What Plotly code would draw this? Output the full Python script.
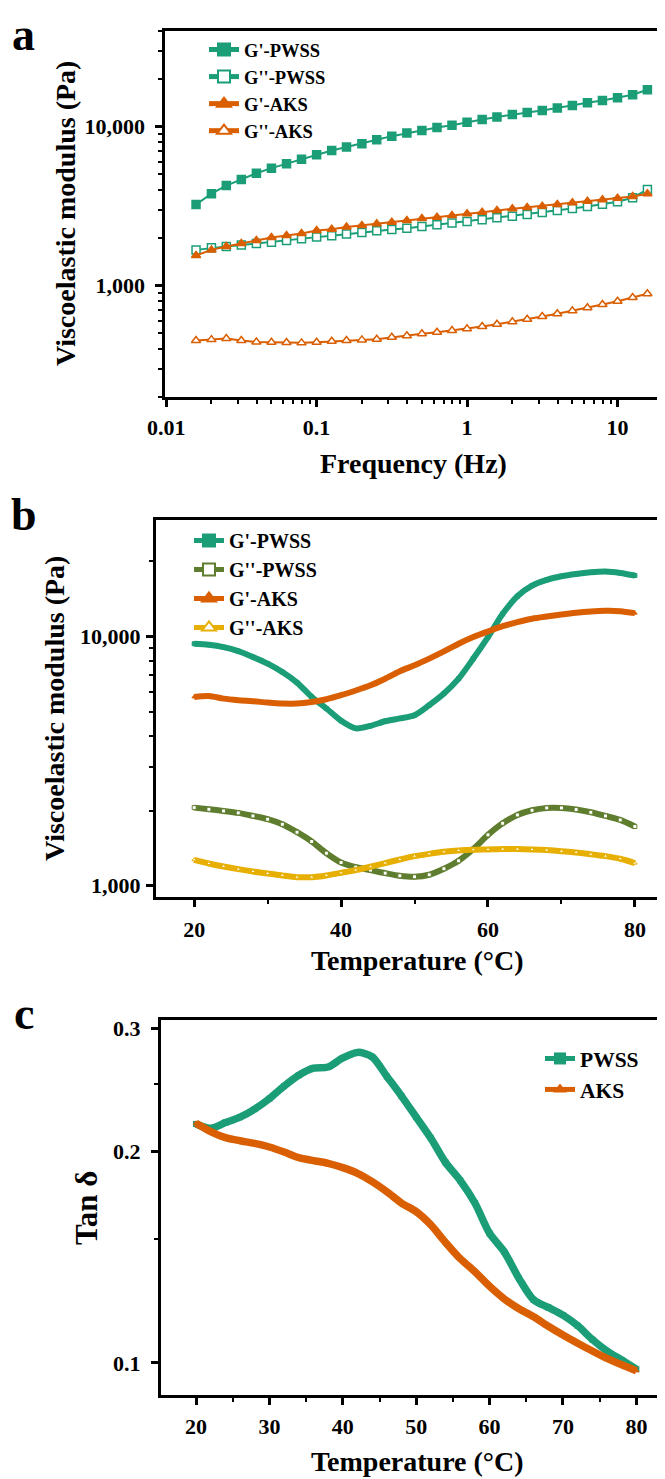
import plotly.graph_objects as go

# page body adds an 8px margin; the figure is shrunk by it so reference pixels map 1:1
OFF = 8
W, H = 665 - OFF, 1479 - OFF

# ---------------- data ----------------
freq_hz = [0.0158, 0.02, 0.0251, 0.0316, 0.0398, 0.0501, 0.0631, 0.0794, 0.1, 0.126,
           0.158, 0.2, 0.251, 0.316, 0.398, 0.501, 0.631, 0.794, 1.0, 1.26,
           1.58, 2.0, 2.51, 3.16, 3.98, 5.01, 6.31, 7.94, 10.0, 12.6, 15.8]
a_g1_pwss = [3230, 3780, 4250, 4640, 5080, 5470, 5820, 6220, 6640, 7060, 7420, 7790, 8250, 8690, 9080,
             9440, 9860, 10190, 10640, 11070, 11450, 11900, 12240, 12610, 13040, 13550, 14090, 14580,
             15140, 15820, 17020]
a_g2_pwss = [1675, 1725, 1760, 1795, 1840, 1870, 1920, 1965, 2015, 2055, 2105, 2155, 2210, 2250, 2290,
             2350, 2410, 2470, 2530, 2590, 2670, 2730, 2800, 2880, 2965, 3050, 3140, 3245, 3360, 3560, 4020]
a_g1_aks = [1545, 1675, 1760, 1840, 1920, 2005, 2060, 2125, 2220, 2260, 2330, 2385, 2445, 2500, 2565,
            2640, 2690, 2755, 2825, 2890, 2965, 3035, 3095, 3155, 3230, 3310, 3390, 3460, 3540, 3630, 3780]
a_g2_aks = [451, 457, 464, 451, 442, 440, 438, 436, 440, 446, 451, 455, 459, 473, 483, 497, 508, 521,
            534, 552, 571, 591, 614, 638, 664, 693, 724, 760, 797, 841, 887]

temp_c = [20, 22, 24, 26, 28, 30, 32, 34, 36, 38, 40, 42, 44, 46, 48, 50,
          52, 54, 56, 58, 60, 62, 64, 66, 68, 70, 72, 74, 76, 78, 80]
b_g1_pwss = [9350, 9260, 9060, 8730, 8270, 7780, 7200, 6530, 5720, 5140, 4590, 4280, 4380, 4570, 4690,
             4830, 5300, 5900, 6770, 8150, 9940, 12320, 14500, 15990, 16870, 17430, 17810, 18080, 18200,
             17980, 17550]
b_g2_pwss = [2058, 2027, 1996, 1960, 1906, 1849, 1765, 1640, 1505, 1351, 1240, 1188, 1156, 1124, 1097,
             1087, 1107, 1170, 1259, 1403, 1600, 1781, 1923, 2008, 2052, 2052, 2021, 1971, 1906, 1837, 1728]
b_g1_aks = [5720, 5770, 5630, 5550, 5500, 5430, 5380, 5380, 5460, 5600, 5810, 6070, 6370, 6770, 7250,
            7660, 8150, 8710, 9350, 9940, 10470, 11000, 11410, 11770, 12020, 12240, 12440, 12590, 12670,
            12630, 12400]
b_g2_aks = [1271, 1229, 1195, 1166, 1141, 1121, 1100, 1083, 1083, 1100, 1127, 1156, 1192, 1233, 1275,
            1315, 1343, 1368, 1385, 1394, 1398, 1403, 1403, 1398, 1390, 1377, 1360, 1339, 1315, 1283, 1233]

c_tan_pwss = [0.219, 0.216, 0.220, 0.224, 0.230, 0.238, 0.248, 0.257, 0.263, 0.264, 0.272, 0.277, 0.273,
              0.256, 0.240, 0.224, 0.209, 0.193, 0.182, 0.169, 0.153, 0.144, 0.132, 0.123, 0.120, 0.117,
              0.113, 0.108, 0.104, 0.101, 0.098]
c_tan_aks = [0.2195, 0.2136, 0.2094, 0.2073, 0.2055, 0.2031, 0.1998, 0.1961, 0.1942, 0.1925, 0.1898,
             0.1863, 0.1813, 0.1754, 0.1690, 0.1643, 0.1573, 0.1485, 0.1408, 0.1349, 0.1286, 0.1234,
             0.1195, 0.1164, 0.1128, 0.1096, 0.1067, 0.1040, 0.1015, 0.0994, 0.0975]

names_a = ["G'-PWSS", "G''-PWSS", "G'-AKS", "G''-AKS"]
names_c = ["PWSS", "AKS"]

# ---------------- style ----------------
TEAL = "#1b9e77"
ORANGE = "#d95f02"
OLIVE = "#5f7d2e"
YELLOW = "#e6af02"
FONT = "Liberation Serif"


def px_x(p):
    return (p - OFF) / W


def px_y(p):
    return 1 - (p - OFF) / H


fig = go.Figure()

# Panel a
specs_a = [
    (a_g1_pwss, TEAL, "square", TEAL, names_a[0]),
    (a_g2_pwss, TEAL, "square", "white", names_a[1]),
    (a_g1_aks, ORANGE, "triangle-up", ORANGE, names_a[2]),
    (a_g2_aks, ORANGE, "triangle-up", "white", names_a[3]),
]
for vals, col, sym, fill, nm in specs_a:
    fig.add_trace(go.Scatter(
        x=freq_hz, y=vals, name=nm, mode="lines+markers",
        line=dict(color=col, width=2),
        marker=dict(symbol=sym, size=8, color=fill, line=dict(color=col, width=1.5)),
        xaxis="x", yaxis="y", legend="legend"))

# Panel b
specs_b = [
    (b_g1_pwss, TEAL, "square", TEAL, names_a[0]),
    (b_g2_pwss, OLIVE, "square", "white", names_a[1]),
    (b_g1_aks, ORANGE, "triangle-up", ORANGE, names_a[2]),
    (b_g2_aks, YELLOW, "triangle-up", "white", names_a[3]),
]
for vals, col, sym, fill, nm in specs_b:
    fig.add_trace(go.Scatter(
        x=temp_c, y=vals, name=nm, mode="lines+markers",
        line=dict(color=col, width=6, shape="spline", smoothing=0.8),
        marker=dict(symbol=sym, size=4, color=fill, line=dict(color=col, width=1)),
        xaxis="x2", yaxis="y2", legend="legend2"))

# Panel c
specs_c = [
    (c_tan_pwss, TEAL, "square", names_c[0]),
    (c_tan_aks, ORANGE, "triangle-up", names_c[1]),
]
for vals, col, sym, nm in specs_c:
    fig.add_trace(go.Scatter(
        x=temp_c, y=vals, name=nm, mode="lines+markers",
        line=dict(color=col, width=7.5, shape="spline", smoothing=0.8),
        marker=dict(symbol=sym, size=6, color=col),
        xaxis="x3", yaxis="y3", legend="legend3"))

tickfont = dict(family=FONT, size=22, color="black", weight="bold")


def axis_common(**kw):
    d = dict(showline=True, linewidth=3, linecolor="black", ticks="outside", ticklen=7,
             tickwidth=2.5, tickcolor="black", showgrid=False, zeroline=False,
             tickfont=tickfont)
    d.update(kw)
    return d


minor_freq = [m * 10 ** e for e in (-2, -1, 0, 1) for m in (2, 3, 4, 5, 6, 7, 8, 9)]
minor_mod = [m * 10 ** e for e in (2, 3, 4) for m in (2, 3, 4, 5, 6, 7, 8, 9)]
minor_style = dict(ticks="outside", ticklen=4, tickwidth=2, tickcolor="black", showgrid=False)

fig.update_layout(
    width=W, height=H,
    margin=dict(l=0, r=0, t=0, b=0, autoexpand=False),
    paper_bgcolor="white", plot_bgcolor="white",
    font=dict(family=FONT, color="black"),
    xaxis=axis_common(type="log", domain=[px_x(165.4), px_x(661.6)], range=[-2.005, 1.293],
                      tickvals=[0.01, 0.1, 1, 10], ticktext=["0.01", "0.1", "1", "10"],
                      mirror=True, anchor="y", ticklabelstandoff=2,
                      minor=dict(tickvals=minor_freq, **minor_style)),
    yaxis=axis_common(type="log", domain=[px_y(396.7), px_y(30.7)], range=[2.301, 4.602],
                      tickvals=[1000, 10000], ticktext=["1,000", "10,000"],
                      mirror=True, anchor="x", ticklabelstandoff=6,
                      minor=dict(tickvals=minor_mod, **minor_style)),
    xaxis2=axis_common(domain=[px_x(156), 1.0], range=[14.8, 84.1],
                       tickvals=[20, 40, 60, 80], mirror=True, anchor="y2", ticklabelstandoff=4,
                       minor=dict(tickvals=[30, 50, 70], **minor_style)),
    yaxis2=axis_common(type="log", domain=[px_y(897), px_y(519.5)], range=[2.955, 4.469],
                       tickvals=[1000, 10000], ticktext=["1,000", "10,000"],
                       mirror=False, anchor="x2", ticklabelstandoff=1,
                       minor=dict(tickvals=minor_mod, **minor_style)),
    xaxis3=axis_common(domain=[px_x(161), 1.0], range=[15.23, 83.9],
                       tickvals=[20, 30, 40, 50, 60, 70, 80], mirror=True, anchor="y3",
                       ticklabelstandoff=3,
                       minor=dict(tickvals=[25, 35, 45, 55, 65, 75], **minor_style)),
    yaxis3=axis_common(type="log", domain=[px_y(1395), px_y(1020)], range=[-1.0456, -0.5114],
                       tickvals=[0.1, 0.2, 0.3], ticktext=["0.1", "0.2", "0.3"],
                       mirror=False, anchor="x3", ticklabelstandoff=6,
                       minor=dict(tickvals=[0.15, 0.25], **minor_style)),
    legend=dict(x=px_x(204), y=px_y(31), xanchor="left", yanchor="top",
                bgcolor="rgba(0,0,0,0)", itemsizing="constant", tracegroupgap=0,
                font=dict(family=FONT, size=18.5, color="black", weight="bold")),
    legend2=dict(x=px_x(189), y=px_y(521), xanchor="left", yanchor="top",
                 bgcolor="rgba(0,0,0,0)", itemsizing="constant", tracegroupgap=0,
                 font=dict(family=FONT, size=20, color="black", weight="bold")),
    legend3=dict(x=px_x(540), y=px_y(1038), xanchor="left", yanchor="top",
                 bgcolor="rgba(0,0,0,0)", itemsizing="constant", tracegroupgap=0,
                 font=dict(family=FONT, size=21.5, color="black", weight="bold")),
    showlegend=True,
)

title_font = dict(family=FONT, size=28, color="black", weight="bold")
label_font = dict(family=FONT, size=46, color="black", weight="bold")
annots = [
    # axis titles
    dict(text="Frequency (Hz)", x=px_x(413), y=px_y(463), font=title_font),
    dict(text="Viscoelastic modulus (Pa)", x=px_x(65), y=px_y(214), font=title_font, textangle=-90),
    dict(text="Temperature (°C)", x=px_x(417), y=px_y(960), font=title_font),
    dict(text="Viscoelastic modulus (Pa)", x=px_x(54), y=px_y(709), font=title_font, textangle=-90),
    dict(text="Temperature (°C)", x=px_x(417), y=px_y(1461), font=title_font),
    dict(text="Tan δ", x=px_x(86), y=px_y(1208), font=dict(family=FONT, size=31, color="black",
                                                           weight="bold"), textangle=-90),
]
for a in annots:
    fig.add_annotation(xref="paper", yref="paper", xanchor="center", yanchor="middle",
                       showarrow=False, **a)

# panel letters
letters = [("a", 23, OFF), ("b", 24, 488), ("c", 24, 987)]
for txt, lx, ty in letters:
    fig.add_annotation(xref="paper", yref="paper", xanchor="center", yanchor="top",
                       x=px_x(lx), y=px_y(ty), text=txt, showarrow=False, borderpad=0,
                       font=label_font)

fig.write_html("out.html")
